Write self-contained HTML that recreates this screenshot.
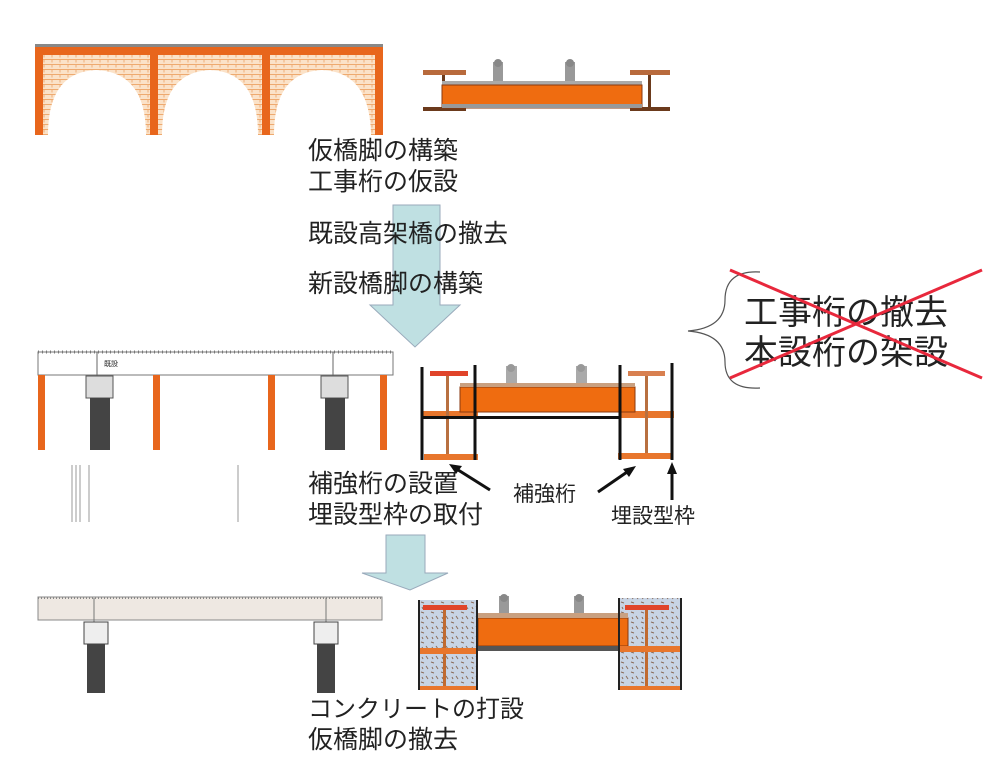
<!DOCTYPE html>
<html><head><meta charset="utf-8"><style>
body{margin:0;background:#fff;}
svg{display:block;}
text{font-family:"Liberation Sans","Noto Sans CJK JP",sans-serif;fill:#222;}
</style></head><body>
<svg width="1000" height="774" viewBox="0 0 1000 774" xmlns="http://www.w3.org/2000/svg">
<defs>
<pattern id="brick" width="8" height="5" patternUnits="userSpaceOnUse">
<rect width="8" height="5" fill="#fbe2c8"/><path d="M0 4.5H8M4 0V2.5" stroke="#eeaa70" stroke-width="0.9"/>
</pattern>
<pattern id="conc" width="10" height="10" patternUnits="userSpaceOnUse">
<rect width="10" height="10" fill="#c8d4e4"/><path d="M1 2l3 1M6 6l2 3M2 7l1 2" stroke="#8a6c5a" stroke-width="1"/>
</pattern>
</defs>

<!-- TOP viaduct -->
<rect x="38" y="55" width="342" height="80" fill="url(#brick)"/>
<path d="M48 135 Q48 72 96 70 Q146 72 146 135Z M162 135 Q162 72 210 70 Q258 72 258 135Z M274 135 Q274 72 322 70 Q370 72 371 135Z" fill="#fff"/>
<rect x="35" y="47" width="348" height="8" fill="#e8661c"/>
<rect x="35" y="44" width="348" height="3" fill="#888"/>
<rect x="35" y="55" width="8" height="80" fill="#e8661c"/>
<rect x="150" y="55" width="8" height="80" fill="#e8661c"/>
<rect x="262" y="55" width="8" height="80" fill="#e8661c"/>
<rect x="375" y="55" width="8" height="80" fill="#e8661c"/>

<!-- TOP section -->
<rect x="423" y="70" width="43" height="5" fill="#b86a3c"/><rect x="442" y="75" width="3" height="33" fill="#6b3a1c"/><rect x="423" y="107" width="43" height="4" fill="#6b3a1c"/>
<rect x="630" y="70" width="40" height="5" fill="#b86a3c"/><rect x="648" y="75" width="3" height="33" fill="#6b3a1c"/><rect x="630" y="107" width="40" height="4" fill="#6b3a1c"/>
<rect x="442" y="81" width="200" height="4" fill="#aaa"/>
<rect x="442" y="85" width="200" height="23" fill="#ef6c10" stroke="#8a3a10"/>
<rect x="442" y="104" width="200" height="4" fill="#999"/>
<rect x="493" y="62" width="10" height="19" fill="#999"/><circle cx="498" cy="63" r="4" fill="#888"/>
<rect x="565" y="62" width="10" height="19" fill="#999"/><circle cx="570" cy="63" r="4" fill="#888"/>

<!-- arrow 1 -->
<path d="M393 205H440V305H460L415 347L370 305H393Z" fill="#bfe0e2" stroke="#9ab" stroke-width="1"/>

<text x="308" y="159" font-size="25">仮橋脚の構築</text>
<text x="308" y="190" font-size="25">工事桁の仮設</text>
<text x="308" y="242" font-size="25">既設高架橋の撤去</text>
<text x="308" y="292" font-size="25">新設橋脚の構築</text>

<!-- brace and crossed text -->
<path d="M760 272 Q725 270 725 300 Q725 328 688 331 Q725 334 725 362 Q725 390 760 388" fill="none" stroke="#555" stroke-width="1.2"/>
<text x="744" y="324" font-size="34">工事桁の撤去</text>
<text x="744" y="364" font-size="34">本設桁の架設</text>
<line x1="730" y1="270" x2="982" y2="378" stroke="#e8283c" stroke-width="3"/>
<line x1="730" y1="378" x2="982" y2="270" stroke="#e8283c" stroke-width="3"/>

<!-- MIDDLE viaduct -->
<rect x="38" y="352" width="355" height="23" fill="#fff" stroke="#777"/>
<path d="M38 352H393" stroke="#777" stroke-width="3" stroke-dasharray="1 3"/>
<line x1="97" y1="352" x2="97" y2="378" stroke="#666"/><line x1="333" y1="352" x2="333" y2="378" stroke="#666"/>
<text x="104" y="366" font-size="7">既設</text>
<rect x="38" y="375" width="7" height="75" fill="#e8661c"/>
<rect x="153" y="375" width="7" height="75" fill="#e8661c"/>
<rect x="268" y="375" width="7" height="75" fill="#e8661c"/>
<rect x="380" y="375" width="7" height="75" fill="#e8661c"/>
<rect x="86" y="376" width="27" height="22" fill="#ddd" stroke="#555"/>
<rect x="90" y="398" width="20" height="52" fill="#444"/>
<rect x="321" y="376" width="27" height="22" fill="#ddd" stroke="#555"/>
<rect x="325" y="398" width="20" height="52" fill="#444"/>
<path d="M72 465V522M76 465V522M80 465V522M89 465V522M238 465V522" stroke="#999" stroke-width="1"/>

<!-- MIDDLE section -->
<rect x="422" y="411" width="56" height="7" fill="#e8762c"/><rect x="620" y="411" width="54" height="7" fill="#e8762c"/>
<rect x="460" y="387" width="175" height="25" fill="#ef6c10" stroke="#8a3a10"/>
<rect x="460" y="383" width="175" height="4" fill="#c9a080"/>
<rect x="430" y="371" width="38" height="5" fill="#e0442a"/><rect x="446" y="376" width="3" height="79" fill="#b87040"/>
<rect x="628" y="371" width="37" height="5" fill="#d88050"/><rect x="645" y="376" width="3" height="79" fill="#b87040"/>
<rect x="424" y="454" width="54" height="6" fill="#e8762c"/><rect x="618" y="453" width="54" height="6" fill="#e8762c"/>
<rect x="421" y="416" width="200" height="3" fill="#111"/>
<path d="M422 367V460M475 365V460M620 365V460M672 363V460" stroke="#111" stroke-width="3"/>
<rect x="506" y="366" width="11" height="17" fill="#aaa"/><circle cx="511" cy="368" r="4" fill="#999"/>
<rect x="576" y="366" width="11" height="17" fill="#aaa"/><circle cx="581" cy="368" r="4" fill="#999"/>

<text x="308" y="492" font-size="25">補強桁の設置</text>
<text x="308" y="523" font-size="25">埋設型枠の取付</text>
<text x="513" y="501" font-size="21">補強桁</text>
<text x="611" y="523" font-size="21">埋設型枠</text>
<path d="M490 490L455 468" stroke="#111" stroke-width="3"/><path d="M449 464L462 466L456 474Z" fill="#111"/>
<path d="M598 492L630 470" stroke="#111" stroke-width="3"/><path d="M636 466L629 477L623 469Z" fill="#111"/>
<path d="M672 500V472" stroke="#111" stroke-width="3"/><path d="M672 462L677 474H667Z" fill="#111"/>

<!-- arrow 2 -->
<path d="M386 535H425V573H448L410 590L362 573H386Z" fill="#bfe0e2" stroke="#9ab"/>

<!-- BOTTOM viaduct -->
<rect x="38" y="597" width="344" height="23" fill="#eee8e2" stroke="#888"/>
<path d="M38 598H382" stroke="#888" stroke-width="2" stroke-dasharray="1 2"/>
<line x1="94" y1="598" x2="94" y2="622" stroke="#777"/><line x1="326" y1="598" x2="326" y2="622" stroke="#777"/>
<rect x="84" y="622" width="24" height="22" fill="#eee" stroke="#444"/>
<rect x="87" y="644" width="18" height="49" fill="#444"/>
<rect x="314" y="622" width="24" height="22" fill="#eee" stroke="#444"/>
<rect x="317" y="644" width="18" height="49" fill="#444"/>

<!-- BOTTOM section -->
<rect x="418" y="600" width="60" height="90" fill="url(#conc)"/>
<rect x="618" y="598" width="64" height="92" fill="url(#conc)"/>
<rect x="478" y="618" width="150" height="28" fill="#ef6c10" stroke="#8a3a10"/>
<rect x="478" y="613" width="150" height="5" fill="#c9a080"/>
<rect x="478" y="646" width="150" height="5" fill="#555"/>
<rect x="423" y="605" width="44" height="5" fill="#e0442a"/><rect x="443" y="610" width="3" height="78" fill="#c06a30"/>
<rect x="625" y="605" width="44" height="5" fill="#e0442a"/><rect x="645" y="610" width="3" height="78" fill="#c06a30"/>
<rect x="418" y="648" width="60" height="6" fill="#e8762c"/><rect x="618" y="646" width="64" height="6" fill="#e8762c"/>
<rect x="418" y="686" width="60" height="4" fill="#e8762c"/><rect x="618" y="686" width="64" height="4" fill="#e8762c"/>
<path d="M419 600V690M477 600V690M619 598V690M681 598V690" stroke="#222" stroke-width="2"/>
<rect x="499" y="596" width="10" height="17" fill="#999"/><circle cx="504" cy="598" r="4" fill="#888"/>
<rect x="574" y="596" width="10" height="17" fill="#999"/><circle cx="579" cy="598" r="4" fill="#888"/>

<text x="308" y="717" font-size="24">コンクリートの打設</text>
<text x="308" y="748" font-size="25">仮橋脚の撤去</text>
</svg>
</body></html>
